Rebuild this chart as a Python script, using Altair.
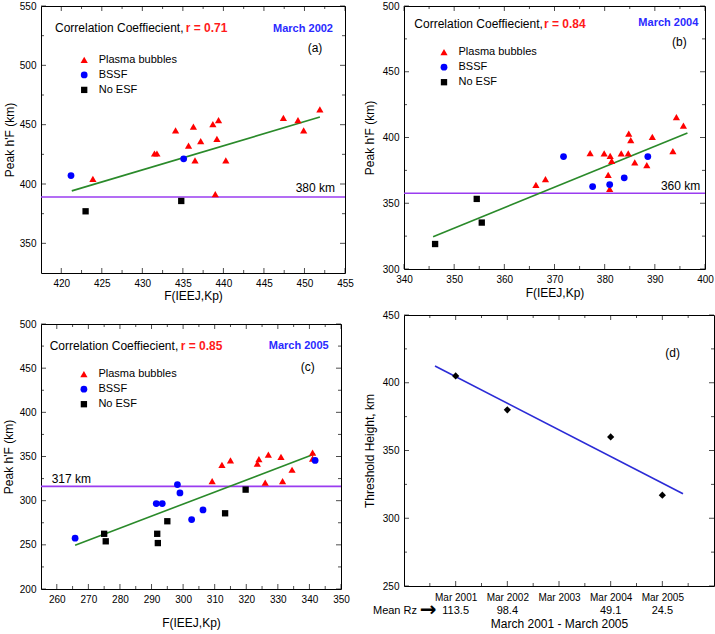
import altair as alt
import pandas as pd

FONT = "Liberation Sans"
TYPES = ["Plasma bubbles", "BSSF", "No ESF"]
COLORS = ["#ff0000", "#0000ff", "#000000"]
SHAPES = ["triangle-up", "circle", "square"]
SIZES = [52, 40, 30]
GREEN = "#2a8a2a"
PURPLE = "#9a3cf0"

# ---------------- Panel (a): March 2002 ----------------
a_pb_x = [423.9, 431.5, 431.8, 434.1, 435.7, 436.3, 436.5, 437.2, 438.7, 439.2, 439.4, 439.0, 440.3, 447.4, 449.2, 449.9, 451.9]
a_pb_y = [404.3, 425.7, 425.7, 445.1, 432.4, 448.4, 420.0, 436.1, 450.4, 438.0, 453.8, 391.4, 420.0, 455.8, 453.8, 445.1, 462.8]
a_bs_x = [421.2, 435.1]
a_bs_y = [407.1, 421.2]
a_no_x = [423.0, 434.8]
a_no_y = [377.0, 385.7]
a_fit_x = [421.3, 451.9]
a_fit_y = [394.2, 456.4]
a_thr = [389.1]
a_xticks = [420, 425, 430, 435, 440, 445, 450, 455]
a_yticks = [350, 400, 450, 500, 550]

# ---------------- Panel (b): March 2004 ----------------
b_pb_x = [366.3, 368.2, 377.1, 379.9, 381.1, 381.4, 380.7, 381.0, 383.3, 384.7, 384.8, 385.2, 386.0, 388.4, 389.5, 393.6, 394.3, 395.7]
b_pb_y = [364.0, 368.3, 388.1, 388.0, 386.0, 382.2, 371.6, 360.9, 388.0, 388.0, 403.0, 398.0, 381.0, 379.0, 400.5, 389.6, 415.5, 409.1]
b_bs_x = [371.8, 377.6, 381.0, 383.9, 388.6]
b_bs_y = [385.5, 362.7, 364.2, 369.3, 385.5]
b_no_x = [346.2, 354.5, 355.5]
b_no_y = [319.0, 353.3, 335.3]
b_fit_x = [345.8, 396.5]
b_fit_y = [324.6, 403.5]
b_thr = [357.6]
b_xticks = [340, 350, 360, 370, 380, 390, 400]
b_yticks = [300, 350, 400, 450, 500]

# ---------------- Panel (c): March 2005 ----------------
c_pb_x = [309.2, 312.3, 315.0, 323.5, 324.0, 327.0, 326.0, 331.0, 331.5, 334.5, 341.0, 341.0]
c_pb_y = [322.0, 340.5, 345.5, 342.0, 347.0, 352.0, 320.5, 349.5, 322.0, 335.0, 354.5, 347.5]
c_bs_x = [265.8, 291.5, 293.4, 298.2, 299.0, 302.7, 306.3, 341.8]
c_bs_y = [257.5, 296.7, 296.7, 318.2, 308.8, 278.6, 289.5, 345.5]
c_no_x = [275.0, 275.5, 291.8, 292.0, 295.0, 313.3, 319.8]
c_no_y = [262.5, 254.0, 262.5, 252.0, 276.7, 285.7, 312.5]
c_fit_x = [265.8, 341.8]
c_fit_y = [249.6, 353.0]
c_thr = [316.2]
c_xticks = [260, 270, 280, 290, 300, 310, 320, 330, 340, 350]
c_yticks = [200, 250, 300, 350, 400, 450, 500]

# ---------------- Panel (d): threshold height ----------------
d_year = [2001, 2002, 2004, 2005]
d_height = [405, 380, 360, 317]
d_fit_x = [2000.6, 2005.4]
d_fit_y = [412.4, 318.1]
d_label_years = [2001, 2002, 2003, 2004, 2005]
d_minor_years = [2000.5, 2001.5, 2002.5, 2003.5, 2004.5, 2005.5]
d_rz_years = [2001, 2002, 2004, 2005]
d_rz = ["113.5", "98.4", "49.1", "24.5"]
d_yticks = [250, 300, 350, 400, 450]


def midpoints(v):
    return [(v[i] + v[i + 1]) / 2 for i in range(len(v) - 1)]


def scatter_df(pbx, pby, bsx, bsy, nox, noy):
    rows = []
    for t, xs_, ys_ in [(TYPES[0], pbx, pby), (TYPES[1], bsx, bsy), (TYPES[2], nox, noy)]:
        rows += [{"x": x, "y": y, "type": t} for x, y in zip(xs_, ys_)]
    return pd.DataFrame(rows)


def txt(s, x, y, color="black", size=12, weight="normal", align="left", font=FONT):
    return alt.Chart(pd.DataFrame({"t": [s]})).mark_text(
        color=color, fontSize=size, fontWeight=weight, align=align, baseline="middle", font=font
    ).encode(text="t:N", x=alt.value(x), y=alt.value(y))


def x_axis(values, title, tpad, lpad=5, expr=None):
    kw = dict(orient="bottom", values=values, ticks=False, domain=False, grid=False, labelPadding=lpad,
              labelFlush=False, labelOverlap=False, title=title, titlePadding=tpad)
    if expr:
        kw["labelExpr"] = expr
    return alt.Axis(**kw)


def y_axis(values, title, tpad):
    return alt.Axis(orient="left", values=values, ticks=False, domain=False, grid=False, labelPadding=5,
                    labelFlush=False, labelOverlap=False, title=title, titlePadding=tpad)


def tick_marks(xs, ys, xax, yax, xmaj, xmin, ymaj, ymin, W, H):
    """Inward-pointing frame ticks on all four sides (Origin style), placed through the scales."""
    layers = []
    for vals, L in [(xmaj, 5), (xmin, 3)]:
        src = pd.DataFrame({"v": vals})
        for ypos in [H - L / 2, L / 2]:
            layers.append(alt.Chart(src).mark_tick(orient="vertical", color="black", thickness=1, size=L)
                          .encode(x=alt.X("v:Q", scale=xs, axis=xax), y=alt.value(ypos)))
    for vals, L in [(ymaj, 5), (ymin, 3)]:
        src = pd.DataFrame({"v": vals})
        for xpos in [L / 2, W - L / 2]:
            layers.append(alt.Chart(src).mark_tick(orient="horizontal", color="black", thickness=1, size=L)
                          .encode(y=alt.Y("v:Q", scale=ys, axis=yax), x=alt.value(xpos)))
    return layers


def scatter_panel(df, fit_x, fit_y, thr, xdom, ydom, xt, yt, W, H,
                  leg_xy, x_tpad, y_tpad, texts):
    xs = alt.Scale(domain=xdom, nice=False, zero=False)
    ys = alt.Scale(domain=ydom, nice=False, zero=False)
    xax = x_axis(xt, "F(IEEJ,Kp)", x_tpad)
    yax = y_axis(yt, "Peak h'F (km)", y_tpad)
    leg = alt.Legend(orient="none", legendX=leg_xy[0], legendY=leg_xy[1], title=None,
                     labelFont=FONT, labelFontSize=11, labelColor="black", labelOffset=9,
                     rowPadding=3, padding=0, symbolStrokeWidth=0)
    pts = alt.Chart(df).mark_point(filled=True, opacity=1).encode(
        x=alt.X("x:Q", scale=xs, axis=xax),
        y=alt.Y("y:Q", scale=ys, axis=yax),
        color=alt.Color("type:N", scale=alt.Scale(domain=TYPES, range=COLORS), legend=leg),
        shape=alt.Shape("type:N", scale=alt.Scale(domain=TYPES, range=SHAPES), legend=leg),
        size=alt.Size("type:N", scale=alt.Scale(domain=TYPES, range=SIZES), legend=leg),
    )
    fit = alt.Chart(pd.DataFrame({"x": fit_x, "y": fit_y})).mark_line(color=GREEN, strokeWidth=1.6).encode(
        x=alt.X("x:Q", scale=xs, axis=xax), y=alt.Y("y:Q", scale=ys, axis=yax))
    rule = alt.Chart(pd.DataFrame({"y": thr})).mark_rule(color=PURPLE, strokeWidth=1.6).encode(
        y=alt.Y("y:Q", scale=ys, axis=yax))
    ticks = tick_marks(xs, ys, xax, yax, xt, midpoints(xt), yt, midpoints(yt), W, H)
    layers = [rule, fit, pts] + ticks + texts
    return alt.layer(*layers).properties(width=W, height=H)


def corr_texts(r, month, tag, thr_label, p):
    return [
        txt("Correlation Coeffiecient,", p["cx"], p["cy"]),
        txt(r, p["rx"], p["cy"], color="#ff1a1a", weight="bold"),
        txt(month, p["mx"], p["my"], color="#2a2aff", size=11, weight="bold", align="right"),
        txt(tag, p["tx"], p["ty"], align="center"),
        txt(thr_label, p["lx"], p["ly"], align=p["la"]),
    ]


pa = scatter_panel(
    scatter_df(a_pb_x, a_pb_y, a_bs_x, a_bs_y, a_no_x, a_no_y), a_fit_x, a_fit_y, a_thr,
    [417.5, 455], [325, 550], a_xticks, a_yticks, 304, 267, (37.7, 48.4), 2, 3,
    corr_texts("r = 0.71", "March 2002", "(a)", "380 km",
               dict(cx=14, cy=22, rx=144.7, mx=292, my=23, tx=274, ty=42, lx=294, ly=182, la="right")),
)
pb = scatter_panel(
    scatter_df(b_pb_x, b_pb_y, b_bs_x, b_bs_y, b_no_x, b_no_y), b_fit_x, b_fit_y, b_thr,
    [340, 400], [300, 500], b_xticks, b_yticks, 301, 263, (34.5, 40.7), 3, 6,
    corr_texts("r = 0.84", "March 2004", "(b)", "360 km",
               dict(cx=10.3, cy=17.7, rx=140, mx=294.3, my=16.7, tx=275.3, ty=35.7, lx=296.3, ly=179.7, la="right")),
)
pc = scatter_panel(
    scatter_df(c_pb_x, c_pb_y, c_bs_x, c_bs_y, c_no_x, c_no_y), c_fit_x, c_fit_y, c_thr,
    [255, 350], [200, 500], c_xticks, c_yticks, 300, 265, (37.4, 44.7), 13, 4,
    corr_texts("r = 0.85", "March 2005", "(c)", "317 km",
               dict(cx=8.7, cy=21.7, rx=139.7, mx=287.7, my=21.7, tx=266.7, ty=42.7, lx=10.7, ly=154.7, la="left")),
)

# ---- Panel (d) ----
dW, dH = 310, 271
dxs = alt.Scale(domain=[2000, 2006], nice=False, zero=False)
dys = alt.Scale(domain=[250, 450], nice=False, zero=False)
dxax = x_axis(d_label_years, "March 2001 - March 2005", 16, lpad=6, expr="'Mar ' + datum.value")
dyax = y_axis(d_yticks, "Threshold Height, km", 6)
d_df = pd.DataFrame({"x": d_year, "y": d_height})
d_pts = alt.Chart(d_df).mark_point(filled=True, shape="diamond", size=52, color="black", opacity=1).encode(
    x=alt.X("x:Q", scale=dxs, axis=dxax), y=alt.Y("y:Q", scale=dys, axis=dyax))
d_fit = alt.Chart(pd.DataFrame({"x": d_fit_x, "y": d_fit_y})).mark_line(color="#2b2bd6", strokeWidth=1.6).encode(
    x=alt.X("x:Q", scale=dxs, axis=dxax), y=alt.Y("y:Q", scale=dys, axis=dyax))
d_rz_txt = alt.Chart(pd.DataFrame({"x": d_rz_years, "t": d_rz})).mark_text(
    fontSize=11, font=FONT, color="black", baseline="middle", align="center").encode(
    x=alt.X("x:Q", scale=dxs, axis=dxax), y=alt.value(dH + 25), text="t:N")
d_ticks = tick_marks(dxs, dys, dxax, dyax, d_label_years, d_minor_years, d_yticks, midpoints(d_yticks), dW, dH)
d_texts = [
    txt("(d)", 268.7, 38, align="center"),
    txt("Mean Rz", 13, dH + 25, size=11, align="right"),
    txt("\u2192", 24, dH + 24, size=20, weight="bold", align="center", font="DejaVu Sans"),
]
pd_ = alt.layer(d_fit, d_pts, d_rz_txt, *d_ticks, *d_texts).properties(width=dW, height=dH)

ind = dict(color="independent", shape="independent", size="independent")
col1 = alt.vconcat(pa, pc, spacing=16).resolve_scale(**ind)
col2 = alt.vconcat(pb, pd_, spacing=10).resolve_scale(**ind)
chart = alt.hconcat(col1, col2, spacing=8).resolve_scale(**ind).properties(
    padding={"left": 1, "top": 0, "right": 0, "bottom": 0}, background="white"
).configure_view(stroke="black", strokeWidth=1).configure_axis(
    labelFont=FONT, labelFontSize=10, labelColor="black", titleFont=FONT, titleFontSize=12,
    titleFontWeight="normal", titleColor="black"
)

chart.save("out.html", embed_options={"renderer": "svg", "actions": False})
